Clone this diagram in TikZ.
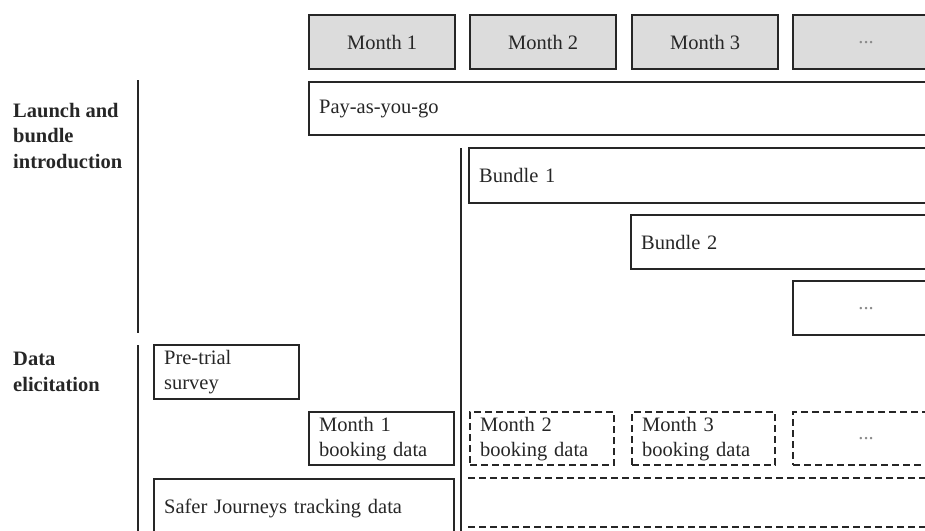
\documentclass[tikz,border=0pt]{standalone}
\usepackage{fontspec}
\setmainfont{Liberation Serif}
\definecolor{ink}{HTML}{262626}
\definecolor{hdr}{HTML}{DCDCDC}
\definecolor{dotc}{HTML}{8A8A8A}
\begin{document}
\begin{tikzpicture}[x=1pt,y=-1pt,
  every node/.style={font=\fontsize{20.5}{25}\selectfont, text=ink},
  box/.style={draw=ink, line width=2.3pt, rectangle, anchor=north west, inner xsep=10pt, inner ysep=0pt, minimum height=54pt, align=left},
  hdrbox/.style={box, fill=hdr, minimum width=146pt, align=center},
  dbox/.style={box, dash pattern=on 7pt off 4pt},
  lbl/.style={anchor=north west, inner sep=0pt, align=left, font=\fontsize{20.5}{25.5}\selectfont\bfseries},
  rulel/.style={draw=ink, line width=2.3pt},
  druled/.style={draw=ink, line width=2.3pt, dash pattern=on 7pt off 4pt}
]
\useasboundingbox (0,0) rectangle (925,530);
\clip (0,0) rectangle (925,530);

% header
\node[hdrbox] (m1) at (308,14) {Month 1};
\node[hdrbox] (m2) at (469,14) {Month 2};
\node[hdrbox] (m3) at (631,14) {Month 3};
\node[hdrbox, text=dotc] (m4) at (792,14) {...};

% labels
\node[lbl] (launch) at (13,103) {Launch and\\bundle\\introduction};
\node[lbl] (data) at (13,352) {Data\\elicitation};

% vertical rules
\coordinate (v1a) at (138,80);
\coordinate (v1b) at (138,333);
\coordinate (v2a) at (138,345);
\coordinate (v2b) at (138,535);
\coordinate (v3a) at (461,148);
\coordinate (v3b) at (461,535);
\draw[rulel] (v1a) -- (v1b);
\draw[rulel] (v2a) -- (v2b);
\draw[rulel] (v3a) -- (v3b);

% launch rows
\node[box, text width=640pt, minimum height=53pt] (payg) at (308,81) {Pay-as-you-go};
\node[box, text width=480pt, minimum height=55pt] (b1) at (468,147) {Bundle 1};
\node[box, text width=318pt] (b2) at (630,214) {Bundle 2};
\node[box, minimum width=146pt, align=center, text=dotc] (b3) at (792,280) {...};

% data rows
\node[box, text width=125pt] (pre) at (153,344) {Pre-trial\\survey};
\node[box, text width=125pt, minimum height=53pt] (bk1) at (308,411) {Month 1\\booking data};
\node[dbox, text width=124pt, minimum height=53pt] (bk2) at (469,411) {Month 2\\booking data};
\node[dbox, text width=123pt, minimum height=53pt] (bk3) at (631,411) {Month 3\\booking data};
\node[dbox, minimum width=146pt, minimum height=53pt, align=center, text=dotc] (bk4) at (792,411) {...};
\node[box, text width=280pt, minimum height=58pt] (safer) at (153,478) {Safer Journeys tracking data};

\coordinate (d1a) at (468,478);
\coordinate (d1b) at (935,478);
\coordinate (d2a) at (468,527);
\coordinate (d2b) at (935,527);
\draw[druled] (d1a) -- (d1b);
\draw[druled] (d2a) -- (d2b);
\end{tikzpicture}
\end{document}
